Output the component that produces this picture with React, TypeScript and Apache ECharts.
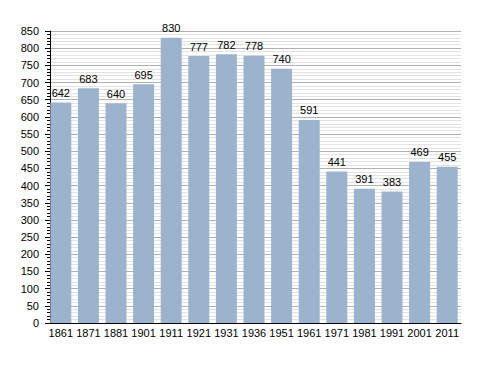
import React, { useEffect, useRef } from "react";
import * as echarts from "echarts";

const years = ["1861", "1871", "1881", "1901", "1911", "1921", "1931", "1936", "1951", "1961", "1971", "1981", "1991", "2001", "2011"];
const population = [642, 683, 640, 695, 830, 777, 782, 778, 740, 591, 441, 391, 383, 469, 455];

export default function App() {
  const ref = useRef<HTMLDivElement>(null);
  useEffect(() => {
    if (!ref.current) return;
    const chart = echarts.init(ref.current, null, { renderer: "svg" });
    const font = "'Liberation Sans', Arial, sans-serif";
    chart.setOption({
      animation: false,
      backgroundColor: "#ffffff",
      grid: { left: 47, right: 27, top: 31, bottom: 50 },
      xAxis: {
        type: "category",
        data: years,
        boundaryGap: true,
        axisLine: { show: true, lineStyle: { color: "#000", width: 1 } },
        axisTick: { show: false },
        axisLabel: { color: "#000", fontSize: 11, fontFamily: font, margin: 4, interval: 0 },
        splitLine: { show: false },
      },
      yAxis: {
        type: "value",
        min: 0,
        max: 850,
        interval: 50,
        offset: -3,
        axisLine: { show: true, lineStyle: { color: "#000", width: 1 } },
        axisTick: { show: true, length: 5, lineStyle: { color: "#000" } },
        minorTick: { show: true, splitNumber: 5, length: 3, lineStyle: { color: "#000" } },
        axisLabel: { color: "#000", fontSize: 11, fontFamily: font, margin: 11 },
        splitLine: { show: true, lineStyle: { color: "#b0b0b0", width: 1 } },
        minorSplitLine: { show: true, lineStyle: { color: "#e2e2e2", width: 1 } },
      },
      series: [
        {
          type: "bar",
          data: population,
          barWidth: 21,
          itemStyle: { color: "#9bb3cc" },
          label: {
            show: true,
            position: "top",
            distance: 4,
            color: "#000",
            fontSize: 11,
            fontFamily: font,
          },
        },
      ],
    });
    return () => chart.dispose();
  }, []);
  return <div ref={ref} style={{ width: 488, height: 373, position: "absolute", left: 0, top: 0 }} />;
}
